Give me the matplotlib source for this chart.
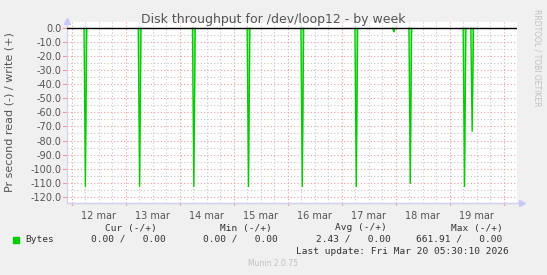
import numpy as np
import matplotlib
matplotlib.use("Agg")
import matplotlib.pyplot as plt
from matplotlib.ticker import FixedLocator, MultipleLocator

W, H = 547, 275

### Data (hours after 12 mar 00:00, values in bytes/s)
spikeHours = [6.1, 30.2, 54.3, 78.6, 102.5, 126.5, 143.2, 150.5, 174.6, 178.0]
spikeRead = [112.8, 112.8, 112.8, 112.8, 112.8, 112.8, 2.5, 110.5, 112.8, 73.4]
dayLabels = ["12 mar", "13 mar", "14 mar", "15 mar", "16 mar", "17 mar", "18 mar", "19 mar"]
yTicks = [0, -10, -20, -30, -40, -50, -60, -70, -80, -90, -100, -110, -120]
yTickLabels = ["%.1f" % v for v in yTicks]
legendHeaders = ["Cur (-/+)", "Min (-/+)", "Avg (-/+)", "Max (-/+)"]
legendValues = ["0.00 /   0.00", "0.00 /   0.00", "2.43 /   0.00", "661.91 /   0.00"]
lastUpdate = "Last update: Fri Mar 20 05:30:10 2026"

xMin, xMax = -2.2, 197.8
yMin, yMax = -124.2, 4.7

def px(x, y):
    return x / W, 1 - y / H

fig = plt.figure(figsize=(W / 100, H / 100), dpi=100)
fig.patch.set_facecolor("#f0f0f0")
left, top = px(66.7, 21.7)
right, bottom = px(516.7, 202.5)
ax = fig.add_axes([left, bottom, right - left, top - bottom])
ax.set_facecolor("white")
ax.set_xlim(xMin, xMax)
ax.set_ylim(yMin, yMax)

### Grid: red dotted majors, grey dotted minors
majorX = [24 * i for i in range(9)]
minorX = [6 * i for i in range(-1, 34) if i % 4 != 0]
for x in minorX:
    ax.axvline(x, color="#c8c8c8", lw=0.8, ls=(0, (1, 2)), zorder=1)
for x in majorX:
    ax.axvline(x, color="#e8a0a0", lw=0.8, ls=(0, (1, 2)), zorder=1)
for y in np.arange(-125, 5, 5):
    if y % 10 == 0:
        ax.axhline(y, color="#e8a0a0", lw=0.8, ls=(0, (1, 2)), zorder=1)
    else:
        ax.axhline(y, color="#c8c8c8", lw=0.8, ls=(0, (1, 2)), zorder=1)

### Spikes (reads drawn negative)
half = 0.6
for t, v in zip(spikeHours, spikeRead):
    xs = [t - half, t, t + half]
    ys = [0, -v, 0]
    ax.fill_between(xs, ys, 0, color="#8ee88e", lw=0, zorder=2)
    ax.plot(xs, ys, color="#00cc00", lw=1.0, zorder=3)

ax.axhline(0, color="black", lw=1.0, zorder=4)

### Ticks
ax.yaxis.set_major_locator(FixedLocator(yTicks))
ax.set_yticklabels(yTickLabels)
ax.xaxis.set_major_locator(FixedLocator([24 * i + 12 for i in range(len(dayLabels))]))
ax.set_xticklabels(dayLabels)
ax.tick_params(axis="both", length=0, labelsize=7, labelcolor="#555555", pad=4)
ax.tick_params(axis="x", pad=6)
for x in majorX:
    ax.plot([x, x], [yMin, yMin - 2], color="#e8a0a0", lw=0.8, clip_on=False, zorder=1)
for y in yTicks:
    ax.plot([xMin, xMin - 1.8], [y, y], color="#e8a0a0", lw=0.8, clip_on=False, zorder=1)

for s in ["top", "right"]:
    ax.spines[s].set_visible(False)
ax.spines["left"].set_color("#d0d0f0")
ax.spines["bottom"].set_color("#d0d0f0")
ax.plot([xMin, xMax + 1.5], [yMin, yMin], color="#d0d0f0", lw=1, clip_on=False)
ax.plot([xMax + 2.2], [yMin], marker=">", color="#c8c8f8", ms=4, clip_on=False)
ax.plot([xMin], [yMax + 0.8], marker="^", color="#c8c8f8", ms=4, clip_on=False)

### Texts
fig.text(*px(273, 19), "Disk throughput for /dev/loop12 - by week", ha="center",
         va="center", fontsize=9, color="#555555")
fig.text(*px(10, 112), "Pr second read (-) / write (+)", rotation=90, ha="center",
         va="center", fontsize=8, color="#555555")
fig.text(*px(537, 58), "RRDTOOL / TOBI OETIKER", rotation=270, ha="center",
         va="center", fontsize=5.5, color="#c0c0c0")

mono = "DejaVu Sans Mono"
headerRight = [156.7, 271.7, 386.7, 502.7]
valueRight = [165.7, 278, 390.7, 502.7]
for h, xr in zip(legendHeaders, headerRight):
    fig.text(*px(xr, 228), h, ha="right", va="center", fontsize=6.8,
             family=mono, color="#333333")
for v, xr in zip(legendValues, valueRight):
    fig.text(*px(xr, 239.5), v, ha="right", va="center", fontsize=6.8,
             family=mono, color="#333333")
fig.patches.append(plt.Rectangle(px(13.3, 243), 5.7 / W, 6 / H, transform=fig.transFigure,
                                 color="#00cc00", figure=fig))
fig.text(*px(25, 239.5), "Bytes", ha="left", va="center", fontsize=6.8,
         family=mono, color="#333333")
fig.text(*px(509, 251), lastUpdate, ha="right", va="center", fontsize=6.8,
         family=mono, color="#333333")
fig.text(*px(273, 264), "Munin 2.0.75", ha="center", va="center", fontsize=5.5,
         color="#c0c0c0")

fig.savefig("out.png", dpi=100, facecolor=fig.get_facecolor())
